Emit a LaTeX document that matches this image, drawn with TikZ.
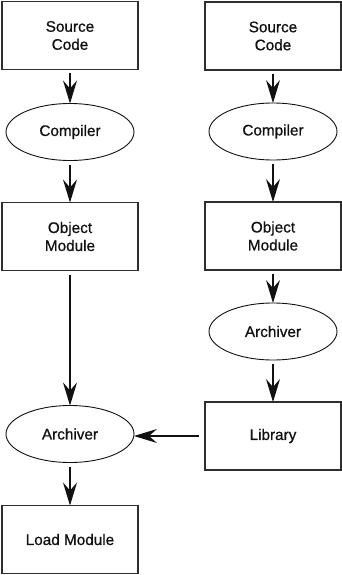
\documentclass[tikz,border=0pt]{standalone}
\usepackage{fontspec}
\setmainfont{Liberation Sans}[FakeBold=0.7]
\usepackage{tikz}
\usetikzlibrary{arrows.meta,positioning,shapes.geometric}
\definecolor{ink}{HTML}{111111}
\definecolor{frame}{HTML}{2E2E2E}
\tikzset{
    every picture/.style={line join=miter},
    filebox/.style={draw=frame,fill=white,line width=1.1pt,rectangle,
      minimum width=136pt,minimum height=68pt,inner sep=2pt,outer sep=0pt,
      font=\fontsize{15.3}{18}\selectfont,align=center,text=ink},
    toolnode/.style={draw=ink,fill=white,ellipse,line width=0.9pt,
      minimum width=128pt,minimum height=57pt,inner sep=0pt,outer sep=0pt,
      font=\fontsize{15.3}{18}\selectfont,align=center,text=ink},
    flowarrow/.style={-{Stealth[length=23pt,width=14pt,inset=8pt]},draw=ink,
      line width=1.1pt,shorten <=4pt}
}
\begin{document}
\begin{tikzpicture}
  \useasboundingbox (0,0) rectangle (342pt,-575pt);
  % left column
  \node[filebox] (src1) at (70pt,-35.5pt) {Source\\Code};
  \node[toolnode,below=34pt of src1] (cmp1) {Compiler};
  \node[filebox,below=42pt of cmp1] (obj1) {Object\\Module};
  \node[toolnode,below=135pt of obj1] (arc1) {Archiver};
  \node[filebox,below=43pt of arc1] (load) {Load Module};
  % right column
  \node[filebox] (src2) at (273pt,-36pt) {Source\\Code};
  \node[toolnode,below=33pt of src2] (cmp2) {Compiler};
  \node[filebox,below=42pt of cmp2] (obj2) {Object\\Module};
  \node[toolnode,below=33pt of obj2] (arc2) {Archiver};
  \node[filebox,below=42pt of arc2] (lib) {Library};
  \draw[flowarrow] (src1)--(cmp1); \draw[flowarrow] (cmp1)--(obj1);
  \draw[flowarrow] (obj1)--(arc1); \draw[flowarrow] (arc1)--(load);
  \draw[flowarrow] (src2)--(cmp2); \draw[flowarrow] (cmp2)--(obj2);
  \draw[flowarrow] (obj2)--(arc2); \draw[flowarrow] (arc2)--(lib);
  \draw[flowarrow,shorten <=6pt] (lib.west)--(arc1.east |- lib.west);
\end{tikzpicture}
\end{document}
